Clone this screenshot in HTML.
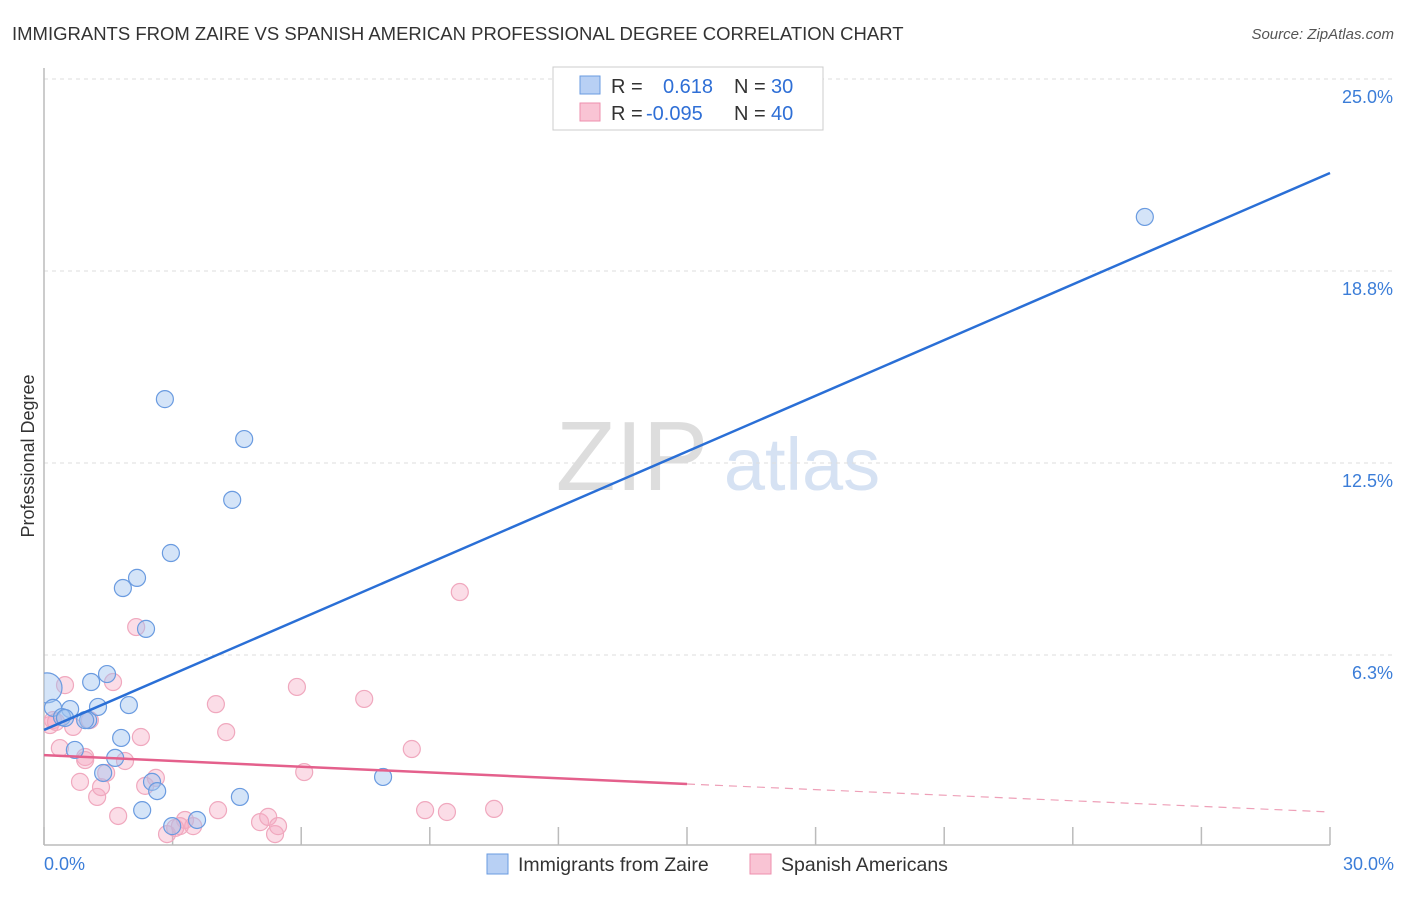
<!DOCTYPE html>
<html><head><meta charset="utf-8"><style>
body{margin:0;background:#fff;font-family:"Liberation Sans",sans-serif}
svg text{font-family:"Liberation Sans",sans-serif}
</style></head><body>
<svg id="c" width="1406" height="892" xmlns="http://www.w3.org/2000/svg">
<defs><clipPath id="pc"><rect x="44" y="60" width="1360" height="800"/></clipPath></defs>
<text x="12" y="40" font-size="18.5" fill="#333">IMMIGRANTS FROM ZAIRE VS SPANISH AMERICAN PROFESSIONAL DEGREE CORRELATION CHART</text>
<text x="1394" y="39" font-size="15" fill="#555" text-anchor="end" font-style="italic">Source: ZipAtlas.com</text>
<text x="632" y="490" font-size="98" fill="#ddd" font-family="Liberation Serif" text-anchor="middle">ZIP</text>
<text x="802" y="490" font-size="74" fill="#d6e2f3" text-anchor="middle">atlas</text>
<text transform="translate(34,456) rotate(-90)" font-size="18" fill="#333" text-anchor="middle">Professional Degree</text>
<g id="grid"></g><g id="pts" clip-path="url(#pc)"></g><g id="lines"></g>
<g>
<rect x="553" y="67" width="270" height="63" fill="#fff" stroke="#ccc"/>
<rect x="580" y="76" width="20" height="18" fill="#b8d0f4" stroke="#6a9be0"/>
<rect x="580" y="103" width="20" height="18" fill="#f9c4d4" stroke="#ee8fae"/>
<text x="611" y="93" font-size="20" fill="#333">R =</text>
<text x="663" y="93" font-size="20" fill="#2f6fd6">0.618</text>
<text x="734" y="93" font-size="20" fill="#333">N =</text>
<text x="771" y="93" font-size="20" fill="#2f6fd6">30</text>
<text x="611" y="120" font-size="20" fill="#333">R =</text>
<text x="646" y="120" font-size="20" fill="#2f6fd6">-0.095</text>
<text x="734" y="120" font-size="20" fill="#333">N =</text>
<text x="771" y="120" font-size="20" fill="#2f6fd6">40</text>
</g>
<g>
<rect x="487" y="854" width="21" height="20" fill="#b8d0f4" stroke="#6a9be0"/>
<text x="518" y="871" font-size="19.5" fill="#333">Immigrants from Zaire</text>
<rect x="750" y="854" width="21" height="20" fill="#f9c4d4" stroke="#ee8fae"/>
<text x="781" y="871" font-size="19.5" fill="#333">Spanish Americans</text>
</g>
<text x="44" y="870" font-size="18" fill="#3b7dd8">0.0%</text>
<text x="1394" y="870" font-size="18" fill="#3b7dd8" text-anchor="end">30.0%</text>
</svg>
<script>
const yTicks=[25,18.75,12.5,6.25];
const yTickLabels=["25.0%","18.8%","12.5%","6.3%"];
const xTicks=[0,3,6,9,12,15,18,21,24,27,30];
const blueX=[0.07,0.21,0.61,0.42,1.03,0.72,1.10,1.47,1.26,1.98,1.80,1.66,1.38,2.52,2.64,2.29,2.99,3.57,4.57,7.91,1.84,2.17,2.38,2.96,2.82,4.39,4.67,25.68,0.96,0.49];
const blueY=[5.18,4.53,4.49,4.23,4.13,3.16,5.37,5.63,4.56,4.62,3.55,2.90,2.41,2.12,1.82,1.20,0.68,0.88,1.63,2.28,8.43,8.76,7.10,9.57,14.58,11.30,13.28,20.51,4.13,4.20];
const pinkX=[0.14,0.49,0.21,0.37,0.68,1.07,0.96,0.84,1.24,1.33,1.45,1.61,1.89,1.73,2.15,2.26,2.36,2.61,2.87,3.06,3.29,3.48,4.01,4.25,4.06,5.04,5.23,5.39,5.46,5.90,6.07,7.47,8.58,8.89,9.40,9.70,10.50,0.28,0.96,3.17];
const pinkY=[3.97,5.27,4.13,3.22,3.91,4.13,2.93,2.12,1.63,1.95,2.41,5.37,2.80,1.01,7.16,3.58,1.99,2.25,0.42,0.62,0.88,0.68,4.65,3.74,1.20,0.81,0.98,0.42,0.68,5.21,2.44,4.82,3.19,1.20,1.14,8.30,1.24,4.07,2.83,0.68];
const blueLine=[3.81,21.94];
const pinkLine=[2.99,2.05,1.14];
const NS="http://www.w3.org/2000/svg";
const X=v=>44+v/30*1286, Y=v=>847-v/6.25*192;
function mk(t,a,p){const e=document.createElementNS(NS,t);for(const k in a)e.setAttribute(k,a[k]);document.getElementById(p).appendChild(e);return e;}
yTicks.forEach((t,i)=>{
 const l=mk('line',{x1:44,x2:1394,y1:Y(t),y2:Y(t),stroke:'#ddd','stroke-dasharray':'4,4'},'grid');
 
 
 const tx=mk('text',{x:1393,y:Y(t)+24,'font-size':18,fill:'#3b7dd8','text-anchor':'end'},'grid');
 tx.textContent=yTickLabels[i];
 
 
});
let ax=mk('line',{x1:44,x2:44,y1:68,y2:845,stroke:'#bbb','stroke-width':1.5},'grid');


ax=mk('line',{x1:44,x2:1330,y1:845,y2:845,stroke:'#bbb','stroke-width':1.5},'grid');


xTicks.forEach(t=>{
 const l=mk('line',{x1:X(t),x2:X(t),y1:827,y2:845,stroke:'#bbb','stroke-width':1.5},'grid');
 
 
});
pinkX.forEach((v,i)=>{
 const c=mk('circle',{cx:X(v),cy:Y(pinkY[i]),r:8.5,fill:'rgba(246,170,194,0.4)',stroke:'#f0a8be','stroke-width':1.2},'pts');
 
 
});
blueX.forEach((v,i)=>{
 const c=mk('circle',{cx:X(v),cy:Y(blueY[i]),r:i==0?15:8.5,fill:'rgba(160,195,240,0.45)',stroke:'#6a9be0','stroke-width':1.2},'pts');
 
 
});
let l=mk('line',{x1:X(0),y1:Y(blueLine[0]),x2:X(30),y2:Y(blueLine[1]),stroke:'#2a6fd6','stroke-width':2.5},'lines');


l=mk('line',{x1:X(0),y1:Y(pinkLine[0]),x2:X(15),y2:Y(pinkLine[1]),stroke:'#e4608c','stroke-width':2.5},'lines');


l=mk('line',{x1:X(15),y1:Y(pinkLine[1]),x2:X(30),y2:Y(pinkLine[2]),stroke:'#eea0b8','stroke-width':1.2,'stroke-dasharray':'8,6'},'lines');


</script>
</body></html>
